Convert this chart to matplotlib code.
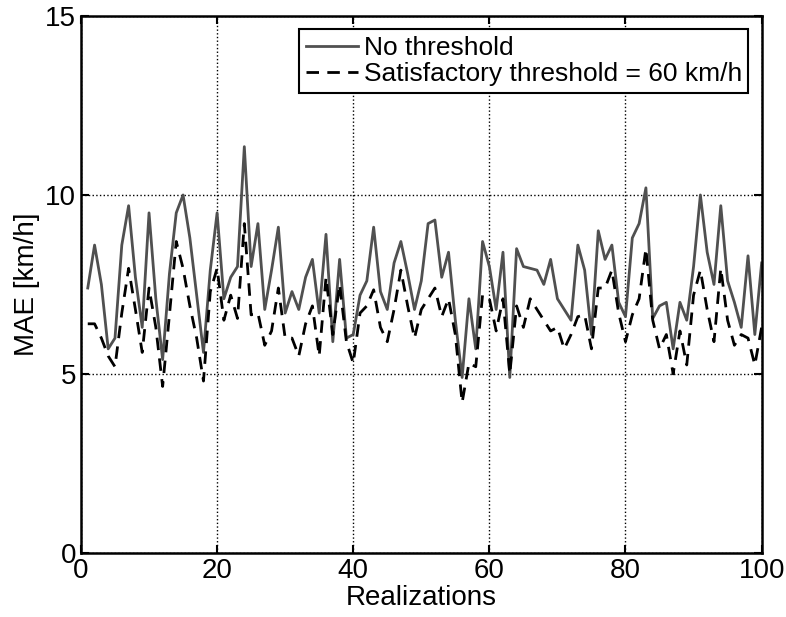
import matplotlib.pyplot as plt
import numpy as np

# MAE per realization
realizations = np.arange(1, 101)

no_threshold = [
    7.4, 8.6, 7.5, 5.7, 6.0, 8.6, 9.7, 7.7, 6.3, 9.5,
    7.1, 5.4, 7.8, 9.5, 10.0, 8.8, 7.2, 5.6, 7.9, 9.5,
    7.1, 7.7, 8.0, 11.35, 8.0, 9.2, 6.8, 7.9, 9.1, 6.7,
    7.3, 6.8, 7.7, 8.2, 6.7, 8.9, 5.9, 8.2, 6.0, 6.1,
    7.2, 7.6, 9.1, 7.3, 6.8, 8.1, 8.7, 7.8, 6.8, 7.6,
    9.2, 9.3, 7.7, 8.4, 6.5, 4.9, 7.1, 5.7, 8.7, 8.0,
    6.8, 8.4, 4.9, 8.5, 8.0, 7.95, 7.9, 7.5, 8.2, 7.1,
    6.8, 6.5, 8.6, 7.9, 6.1, 9.0, 8.2, 8.6, 7.0, 6.6,
    8.8, 9.2, 10.2, 6.55, 6.9, 7.0, 5.7, 7.0, 6.5, 8.0,
    10.0, 8.4, 7.5, 9.7, 7.6, 7.0, 6.3, 8.3, 6.1, 8.1,
]

threshold_60 = [
    6.4, 6.4, 6.0, 5.5, 5.2, 6.7, 7.95, 6.8, 5.6, 7.4,
    6.3, 4.65, 6.65, 8.7, 7.95, 6.9, 6.0, 4.8, 7.3, 7.95,
    6.5, 7.2, 6.55, 9.2, 6.65, 6.7, 5.8, 6.2, 7.4, 6.0,
    6.0, 5.5, 6.4, 6.9, 5.5, 7.7, 6.1, 7.5, 5.9, 5.3,
    6.7, 6.9, 7.35, 6.3, 5.9, 6.8, 7.9, 6.9, 6.0, 6.8,
    7.1, 7.4, 6.6, 7.1, 6.1, 4.2, 5.3, 5.2, 7.2, 7.1,
    6.2, 7.1, 5.0, 6.9, 6.3, 7.1, 6.8, 6.5, 6.2, 6.3,
    5.7, 6.1, 6.6, 6.65, 5.7, 7.4, 7.4, 7.9, 6.7, 5.9,
    6.65, 7.1, 8.5, 6.5, 5.7, 6.1, 5.0, 6.2, 5.25, 7.2,
    7.9, 6.8, 5.9, 7.95, 6.5, 5.8, 6.1, 6.0, 5.25, 6.3,
]

plt.rcParams['font.family'] = ['Liberation Sans', 'DejaVu Sans']

fig = plt.figure(figsize=(7.86, 6.17), dpi=100)
ax = fig.add_axes([0.103, 0.104, 0.866, 0.870])

ax.plot(realizations, no_threshold, '-', color='#505050', lw=2.0, label='No threshold')
ax.plot(realizations, threshold_60, '--', color='black', lw=2.0, dashes=(4.5, 3),
        label='Satisfactory threshold = 60 km/h')

ax.set_xlim(0, 100)
ax.set_ylim(0, 15)
ax.set_xticks([0, 20, 40, 60, 80, 100])
ax.set_yticks([0, 5, 10, 15])
ax.grid(True, linestyle=':', color='black', lw=1.0)
ax.tick_params(direction='in', top=True, right=True, labelsize=20, length=6, width=1.5)
for s in ax.spines.values():
    s.set_linewidth(1.8)

ax.set_xlabel('Realizations', fontsize=20, labelpad=1)
ax.set_ylabel('MAE [km/h]', fontsize=20, labelpad=4)

leg = ax.legend(loc='upper right', fontsize=19, handlelength=2.0, handletextpad=0.2,
                borderpad=0.25, labelspacing=0.1, fancybox=False, framealpha=1,
                edgecolor='black', borderaxespad=0.5)
leg.get_frame().set_linewidth(1.5)

fig.savefig('out.png', dpi=100)
